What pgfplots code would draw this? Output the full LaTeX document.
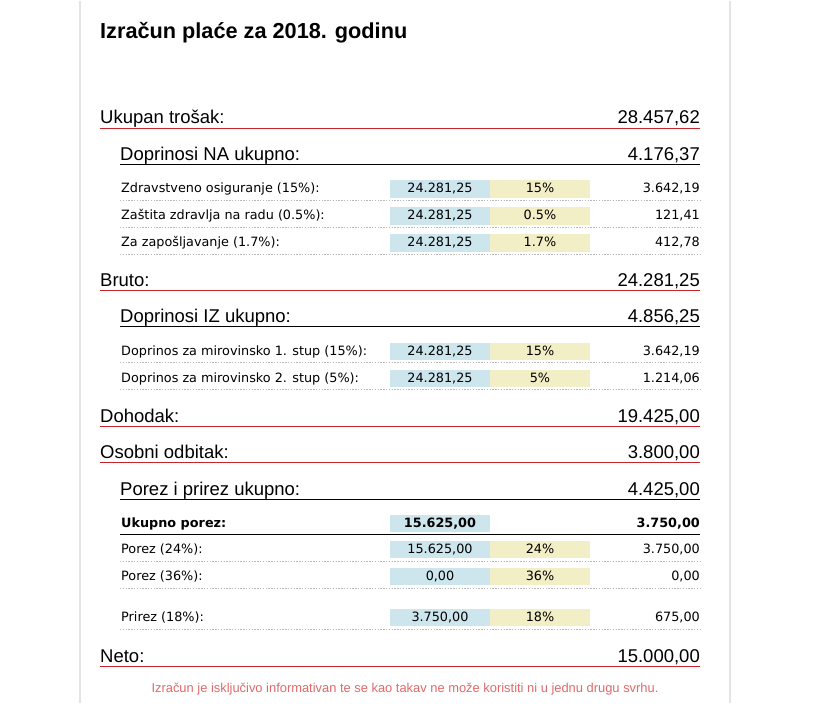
\documentclass[border=0pt]{standalone}
\usepackage{fontspec}
\usepackage{pgfplots}
\pgfplotsset{compat=1.18}
\newfontfamily\arial{Liberation Sans}
\newfontfamily\verdana{DejaVu Sans}
\definecolor{cred}{HTML}{C0262C}
\definecolor{cblue}{HTML}{CDE6EE}
\definecolor{cyellow}{HTML}{F2EEC6}
\definecolor{cdot}{HTML}{B8B8B8}
\definecolor{cframe}{HTML}{E4E4E4}
\definecolor{cnote}{HTML}{E06A6A}
\newcommand\hfont{\arial\fontsize{18.5}{20}\selectfont}
\newcommand\vfont{\verdana\fontsize{12.8}{15}\selectfont}
% header line: x, baseline, line y, colour, label, value
\newcommand\hdr[6]{%
  \addplot[color=#4,line width=1.4pt,mark=none] coordinates {(#1,#3) (700,#3)};
  \node[anchor=base west,inner sep=0,font=\hfont] at (axis cs:#1,#2) {#5};
  \node[anchor=base east,inner sep=0,font=\hfont] at (axis cs:700,#2) {#6};
}
% detail row: baseline, box top, box bottom, dotted y, label, base, rate, value
\newcommand\drow[8]{%
  \addplot[fill=cblue,draw=none] coordinates {(390,#2) (490,#2) (490,#3) (390,#3)} -- cycle;
  \addplot[fill=cyellow,draw=none] coordinates {(490,#2) (590,#2) (590,#3) (490,#3)} -- cycle;
  \addplot[color=cdot,line width=1.2pt,dash pattern=on 1.4pt off 1.4pt,mark=none] coordinates {(120,#4) (700,#4)};
  \node[anchor=base west,inner sep=0,font=\vfont] at (axis cs:121,#1) {#5};
  \node[anchor=base,inner sep=0,font=\vfont] at (axis cs:440,#1) {#6};
  \node[anchor=base,inner sep=0,font=\vfont] at (axis cs:540,#1) {#7};
  \node[anchor=base east,inner sep=0,font=\vfont] at (axis cs:700,#1) {#8};
}
\begin{document}
\begin{tikzpicture}
\begin{axis}[width=831pt, height=702pt, scale only axis, hide axis,
  xmin=0, xmax=831, ymin=0, ymax=702, y dir=reverse, clip=false]
\addplot[fill=white,draw=none] coordinates {(0,0) (831,0) (831,702) (0,702)} -- cycle;
\addplot[color=cframe,line width=1.5pt,mark=none] coordinates {(80,0) (80,702)};
\addplot[color=cframe,line width=1.5pt,mark=none] coordinates {(730,0) (730,702)};

\hdr{120}{160}{164}{black}{Doprinosi NA ukupno:}{4.176,37}
\hdr{100}{123}{127.5}{cred}{Ukupan trošak:}{28.457,62}
\drow{192}{179}{197}{200}{Zdravstveno osiguranje (15\%):}{24.281,25}{15\%}{3.642,19}
\drow{219}{206}{224}{227}{Zaštita zdravlja na radu (0.5\%):}{24.281,25}{0.5\%}{121,41}
\drow{246}{233}{251}{254}{Za zapošljavanje (1.7\%):}{24.281,25}{1.7\%}{412,78}

\hdr{100}{286}{290}{cred}{Bruto:}{24.281,25}
\hdr{120}{322}{326}{black}{Doprinosi IZ ukupno:}{4.856,25}
\drow{355}{342}{359}{362}{Doprinos za mirovinsko 1. stup (15\%):}{24.281,25}{15\%}{3.642,19}
\drow{382}{369}{386}{389}{Doprinos za mirovinsko 2. stup (5\%):}{24.281,25}{5\%}{1.214,06}

\hdr{100}{422}{426}{cred}{Dohodak:}{19.425,00}
\hdr{100}{458}{462}{cred}{Osobni odbitak:}{3.800,00}
\hdr{120}{495}{499}{black}{Porez i prirez ukupno:}{4.425,00}

% Ukupno porez (bold, blue cell only)
\addplot[fill=cblue,draw=none] coordinates {(390,514) (490,514) (490,531) (390,531)} -- cycle;
\addplot[color=black,line width=1.3pt,mark=none] coordinates {(120,534) (700,534)};
\node[anchor=base west,inner sep=0,font=\vfont\bfseries] at (axis cs:121,527) {Ukupno porez:};
\node[anchor=base,inner sep=0,font=\vfont\bfseries] at (axis cs:440,527) {15.625,00};
\node[anchor=base east,inner sep=0,font=\vfont\bfseries] at (axis cs:700,527) {3.750,00};

\drow{553}{540}{557}{561}{Porez (24\%):}{15.625,00}{24\%}{3.750,00}
\drow{580}{567}{584}{588}{Porez (36\%):}{0,00}{36\%}{0,00}
\drow{621}{608}{625}{629}{Prirez (18\%):}{3.750,00}{18\%}{675,00}

\hdr{100}{662}{666}{cred}{Neto:}{15.000,00}

\node[anchor=base west,inner sep=0,font=\arial\bfseries\fontsize{21.7}{24}\selectfont]
  at (axis cs:100,38) {Izračun plaće za 2018. godinu};
\node[anchor=base,inner sep=0,text=cnote,font=\arial\fontsize{12.9}{14}\selectfont]
  at (axis cs:405,692) {Izračun je isključivo informativan te se kao takav ne može koristiti ni u jednu drugu svrhu.};
\end{axis}
\end{tikzpicture}
\end{document}
